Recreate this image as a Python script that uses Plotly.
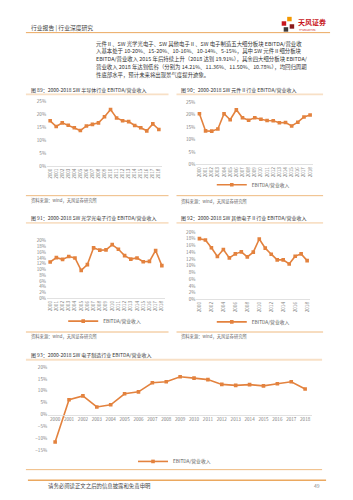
import plotly.graph_objects as go

W, H = 353, 500

YEARS = ["2000", "2001", "2002", "2003", "2004", "2005", "2006", "2007", "2008", "2009",
         "2010", "2011", "2012", "2013", "2014", "2015", "2016", "2017", "2018"]

# EBITDA / operating revenue (%)
SEMI = [17.6, 15.4, 16.8, 15.9, 14.9, 13.8, 15.6, 16.2, 16.8, 19.2, 22.0, 18.7, 17.6, 17.3, 15.8, 14.9, 13.7, 16.4, 14.21]
COMP = [20.4, 13.5, 13.4, 14.3, 20.4, 18.0, 22.0, 18.8, 17.8, 18.8, 18.2, 17.7, 17.6, 16.8, 16.9, 15.5, 17.0, 19.1, 19.91]
OPTO = [12.6, 14.1, 13.5, 14.5, 14.0, 9.7, 11.7, 17.5, 16.7, 16.8, 18.6, 17.0, 14.8, 13.6, 14.0, 12.7, 12.8, 16.6, 11.36]
OTHER = [18.0, 17.6, 15.3, 12.7, 14.8, 12.3, 13.5, 14.1, 12.6, 14.0, 17.9, 15.2, 13.4, 11.7, 11.7, 10.5, 12.8, 13.5, 11.50]
MFG = [-11.3, 6.3, 7.9, 3.3, 4.2, 8.8, 9.6, 13.4, 13.8, 15.9, 15.3, 14.7, 12.7, 12.3, 12.6, 12.1, 13.0, 13.8, 10.78]

SERIES_NAME = "EBITDA/营业收入"

TITLES = [
    "图 89：2000-2018 SW 半导体行业 EBITDA/营业收入",
    "图 90：2000-2018 SW 元件Ⅱ行业 EBITDA/营业收入",
    "图 91：2000-2018 SW 光学光电子行业 EBITDA/营业收入",
    "图 92：2000-2018 SW 其他电子Ⅱ行业 EBITDA/营业收入",
    "图 93：2000-2018 SW 电子制造行业 EBITDA/营业收入",
]
SOURCE = "资料来源：wind，天风证券研究所"
HEADER = "行业报告 | 行业深度研究"
PARAGRAPH = [
    "元件Ⅱ、SW 光学光电子、SW 其他电子Ⅱ、SW 电子制造五大细分板块 EBITDA/营业收",
    "入基本处于 10-20%、15-20%、10-16%、10-14%、5-15%，其中 SW 元件Ⅱ细分板块",
    "EBITDA/营业收入 2015 年后持续上升（2018 达到 19.91%），其余四大细分板块 EBITDA/",
    "营业收入 2018 年达到低谷（分别为 14.21%、11.36%、11.50%、10.78%），均回归周期",
    "性底部水平，预计未来将出现景气度提升迹象。",
]
FOOTER = "请务必阅读正文之后的信息披露和免责申明"
PAGE = "49"

FONT = "Noto Sans CJK SC"
ORANGE = "#E3823E"
RULE = "#EBA85F"
PEACH = "#F8E0C6"
TXT = "#3a3a3a"
AXT = "#808080"


def fx(px):
    return px / W


def fy(py):
    return 1 - py / H


fig = go.Figure()

charts = [
    dict(data=SEMI, x0=49.3, x1=158.3, ytop=100, ybot=165, rng=(0, 0.25), dtick=0.05, leg=(98, 186), rot=True),
    dict(data=COMP, x0=199, x1=310, ytop=100.5, ybot=163.5, rng=(0, 0.25), dtick=0.05, leg=(253, 184), rot=True),
    dict(data=OPTO, x0=49.3, x1=161.3, ytop=240.5, ybot=299, rng=(0, 0.20), dtick=0.02, leg=(104, 322), rot=True),
    dict(data=OTHER, x0=199, x1=307, ytop=231.7, ybot=300, rng=(0, 0.20), dtick=0.02, leg=(253, 322.7), rot=True),
    dict(data=MFG, x0=54.3, x1=305, ytop=368.3, ybot=453.3, rng=(-0.15, 0.20), dtick=0.05, leg=(174, 464), rot=False),
]

layout_axes = {}
for i, c in enumerate(charts, start=1):
    n = len(YEARS)
    step = (c["x1"] - c["x0"]) / (n - 1)
    dx = [fx(c["x0"] - step / 2), fx(c["x1"] + step / 2)]
    dy = [fy(c["ybot"]), fy(c["ytop"])]
    xa = "xaxis" if i == 1 else f"xaxis{i}"
    ya = "yaxis" if i == 1 else f"yaxis{i}"
    xr = "x" if i == 1 else f"x{i}"
    yr = "y" if i == 1 else f"y{i}"
    lg = "legend" if i == 1 else f"legend{i}"

    fig.add_trace(go.Scatter(
        x=YEARS, y=[v / 100 for v in c["data"]], name=SERIES_NAME,
        mode="lines+markers", xaxis=xr, yaxis=yr, legend=lg,
        line=dict(color=ORANGE, width=1.6),
        marker=dict(symbol="square", size=3.6, color=ORANGE),
        hoverinfo="skip",
    ))

    lo, hi = c["rng"]
    if c["rot"]:
        xpos_kwargs = dict(anchor=yr)
        tickangle = -90
    else:
        zero_frac = (0 - lo) / (hi - lo)
        xpos_kwargs = dict(anchor="free", position=dy[0] + zero_frac * (dy[1] - dy[0]))
        tickangle = 0
    layout_axes[xa] = dict(
        domain=dx, type="category", range=[-0.5, n - 0.5],
        showgrid=False, zeroline=False, showline=True, linecolor="#D9D9D9", linewidth=0.8,
        ticks="", tickangle=tickangle, tickfont=dict(size=4.6, color=AXT, family=FONT),
        fixedrange=True, **xpos_kwargs,
    )
    layout_axes[ya] = dict(
        domain=dy, range=[lo, hi], dtick=c["dtick"], tick0=0, tickformat=".0%",
        showgrid=False, zeroline=False, showline=False, ticks="",
        tickfont=dict(size=4.6, color=AXT, family=FONT), anchor=xr, fixedrange=True,
    )
    layout_axes[lg] = dict(
        x=fx(c["leg"][0]), y=fy(c["leg"][1]), xanchor="center", yanchor="middle",
        orientation="h", font=dict(size=4.8, color="#555", family=FONT),
        bgcolor="rgba(0,0,0,0)", itemwidth=30, tracegroupgap=0,
    )

shapes = []


def hline(y, x0, x1, color, width):
    shapes.append(dict(type="line", xref="paper", yref="paper", x0=fx(x0), x1=fx(x1),
                       y0=fy(y), y1=fy(y), line=dict(color=color, width=width)))


hline(30, 25, 330, RULE, 1.0)           # header rule
hline(92.5, 25, 168, PEACH, 1.6)
hline(92.5, 176, 323, PEACH, 1.6)
hline(195, 25, 168, RULE, 0.8)
hline(195, 176, 323, RULE, 0.8)
hline(222.5, 25, 168, PEACH, 1.6)
hline(222.5, 176, 323, PEACH, 1.6)
hline(333, 25, 168, RULE, 0.8)
hline(333, 176, 323, RULE, 0.8)
hline(361, 25, 322, PEACH, 2.0)
hline(472.3, 25, 322, RULE, 0.8)
hline(483, 27, 326, RULE, 1.5)

# logo pinwheel (decoration)
logo = [("#F39800", 287, 14), ("#C8161D", 281.5, 18.5), ("#3E3A39", 283.5, 24.5), ("#8B1A1A", 289.5, 21.5)]
for col, lx, ly in logo:
    shapes.append(dict(type="rect", xref="paper", yref="paper", x0=fx(lx), x1=fx(lx + 4.5),
                       y0=fy(ly + 4.5), y1=fy(ly), fillcolor=col, line=dict(width=0)))

ann = []


def text(s, x, y, size, color=TXT, anchor="left", bold=False):
    ann.append(dict(text=(f"<b>{s}</b>" if bold else s), xref="paper", yref="paper", x=fx(x), y=fy(y),
                    xanchor=anchor, yanchor="middle", showarrow=False,
                    font=dict(size=size, color=color, family=FONT)))


text(HEADER, 28, 24.5, 5.8, "#444")
text("天风证券", 296, 19.5, 7.0, "#C8161D", bold=True)
text("TF SECURITIES", 297, 27.3, 2.4, "#C8161D")
for k, line in enumerate(PARAGRAPH):
    text(line, 93, 41 + 7.9 * k, 5.4, "#333")

text(TITLES[0], 28, 88, 5.0, "#333")
text(TITLES[1], 179, 88, 5.0, "#333")
text(TITLES[2], 28, 217.5, 5.0, "#333")
text(TITLES[3], 179, 217.5, 5.0, "#333")
text(TITLES[4], 28, 356, 5.0, "#333")
text(SOURCE, 28, 199.5, 4.3, "#666")
text(SOURCE, 179, 200.5, 4.3, "#666")
text(SOURCE, 28, 338, 4.3, "#666")
text(SOURCE, 179, 338, 4.3, "#666")
text(FOOTER, 45, 488.5, 5.4, "#444")
text(PAGE, 322, 488.5, 5.0, "#888", anchor="right")

fig.update_layout(
    width=W, height=H, autosize=False,
    margin=dict(l=0, r=0, t=0, b=0, pad=0),
    paper_bgcolor="white", plot_bgcolor="white",
    font=dict(family=FONT),
    shapes=shapes, annotations=ann,
    **layout_axes,
)

fig.write_html("out.html", config=dict(displayModeBar=False, staticPlot=True))
